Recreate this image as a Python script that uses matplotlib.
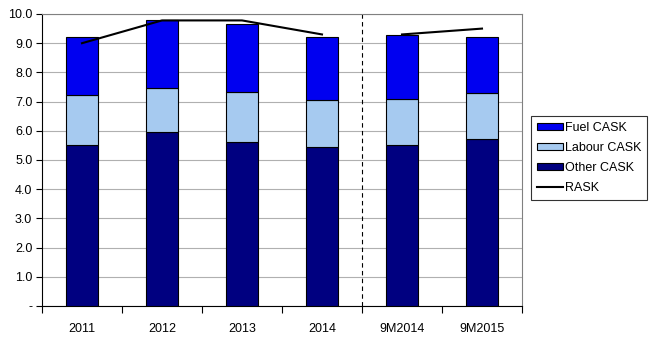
import matplotlib
matplotlib.use("Agg")
import matplotlib.pyplot as plt
import numpy as np

plt.rcParams["font.family"] = ["Liberation Sans", "DejaVu Sans"]

categories = ["2011", "2012", "2013", "2014", "9M2014", "9M2015"]
other_cask = [5.52, 5.97, 5.63, 5.43, 5.52, 5.71]
labour_cask = [1.71, 1.48, 1.70, 1.62, 1.57, 1.59]
fuel_cask = [1.97, 2.33, 2.32, 2.15, 2.19, 1.90]
rask_annual = [9.0, 9.78, 9.78, 9.3]
rask_9m = [9.3, 9.5]

x = np.arange(len(categories))
other = np.array(other_cask)
labour = np.array(labour_cask)
fuel = np.array(fuel_cask)

fig = plt.figure(figsize=(6.5, 3.38), dpi=100)
ax = fig.add_axes([42 / 650, 32 / 338, 480 / 650, 292 / 338])

w = 0.4
ax.bar(x, other, w, color="#000080", edgecolor="black", linewidth=0.8, label="Other CASK", zorder=3)
ax.bar(x, labour, w, bottom=other, color="#A6CAF0", edgecolor="black", linewidth=0.8, label="Labour CASK", zorder=3)
ax.bar(x, fuel, w, bottom=other + labour, color="#0000F0", edgecolor="black", linewidth=0.8, label="Fuel CASK", zorder=3)

ax.plot(x[:4], rask_annual, color="black", linewidth=1.5, label="RASK", zorder=4)
ax.plot(x[4:], rask_9m, color="black", linewidth=1.5, zorder=4)

# separator between full years and 9M figures
ax.axvline(3.5, color="black", linestyle=(0, (4, 3)), linewidth=0.8, zorder=2)

ax.set_xlim(-0.5, 5.5)
ax.set_ylim(0, 10)
ax.set_yticks(np.arange(0, 10.5, 1.0))
ax.set_yticklabels(["-"] + [f"{v:.1f}" for v in np.arange(1, 10.5, 1.0)], fontsize=9)
ax.grid(True, axis="y", color="#B0B0B0", linewidth=0.8, zorder=0)

ax.set_xticks(x)
ax.set_xticklabels(categories, fontsize=9)
ax.tick_params(axis="x", which="major", length=0, pad=12)
ax.set_xticks(np.arange(-0.5, 6, 1.0), minor=True)
ax.tick_params(axis="x", which="minor", length=5, width=0.8, direction="out")
ax.tick_params(axis="y", length=4, width=0.8, direction="out", pad=3)

for s in ["top", "right"]:
    ax.spines[s].set_color("#808080")
for s in ["left", "bottom"]:
    ax.spines[s].set_color("black")

handles, labels = ax.get_legend_handles_labels()
order = [labels.index(n) for n in ["Fuel CASK", "Labour CASK", "Other CASK", "RASK"]]
leg = fig.legend([handles[i] for i in order], [labels[i] for i in order],
                 loc="upper left", bbox_to_anchor=(531 / 650, 1 - 116 / 338),
                 fontsize=9, frameon=True, fancybox=False, edgecolor="black",
                 handlelength=2.1, handleheight=0.5, handletextpad=0.2,
                 borderpad=0.45, labelspacing=0.65, borderaxespad=0)
leg.get_frame().set_linewidth(0.8)

fig.savefig("out.png", dpi=100)
